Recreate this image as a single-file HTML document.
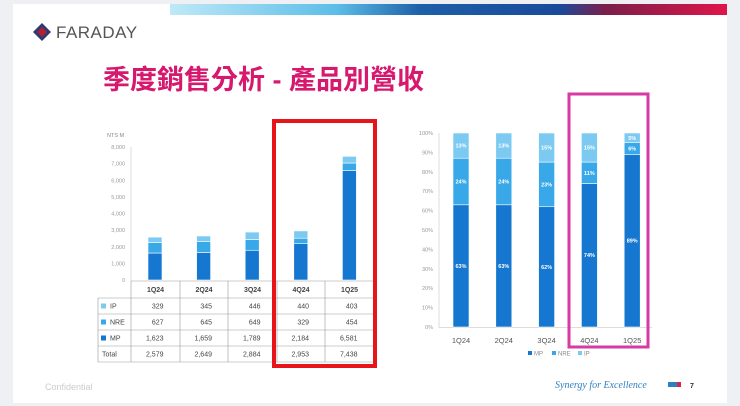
<!DOCTYPE html>
<html><head><meta charset="utf-8">
<style>
body{margin:0;width:740px;height:406px;background:#eef0f4;font-family:"Liberation Sans","Noto Sans CJK TC",sans-serif;overflow:hidden;position:relative}
#slide{position:absolute;left:13px;top:4px;width:714px;height:399px;background:#fff}
svg{position:absolute;left:0;top:0}
</style></head><body>
<div id="slide"></div>
<svg id="s" width="740" height="406">
<defs><linearGradient id="g" x1="0" x2="1"><stop offset="0" stop-color="#bfe9f7"/><stop offset="0.3" stop-color="#5bbde8"/><stop offset="0.45" stop-color="#1d5fa8"/><stop offset="0.7" stop-color="#1a4a9a"/><stop offset="0.78" stop-color="#7a1f4a"/><stop offset="1" stop-color="#e0154a"/></linearGradient></defs>
<rect x="170" y="4" width="557" height="11" fill="url(#g)"/>
<g>
<polygon points="33,32 42,23 51,32 42,41" fill="#2d3a6e"/>
<polygon points="37,32 42,27 47,32 42,37" fill="#b21e3a"/>
<text x="56" y="38" font-size="17" fill="#555" letter-spacing="0.5">FARADAY</text></g>
<text x="103" y="89" font-size="27" fill="#d6186e" font-weight="bold">季度銷售分析 - 產品別營收</text>
<g id="left"></g><g id="right"></g>
<text x="45" y="390" font-size="9" fill="#ccc">Confidential</text>
<text x="555" y="388" font-size="10" fill="#2f7fc0" font-style="italic" font-family="Liberation Serif,serif">Synergy for Excellence</text>
<rect x="668" y="382" width="9" height="5" fill="#2f7fc0"/><rect x="677" y="382" width="4" height="5" fill="#d6244a"/>
<text x="690" y="388" font-size="7" fill="#333" font-weight="bold">7</text>
</svg>
<script>
const categories=["1Q24","2Q24","3Q24","4Q24","1Q25"];
const ipVals=[329,345,446,440,403];
const nreVals=[627,645,649,329,454];
const mpVals=[1623,1659,1789,2184,6581];
const totals=[2579,2649,2884,2953,7438];
const mpPct=[63,63,62,74,89];
const nrePct=[24,24,23,11,6];
const ipPct=[13,13,15,15,5];
const yTicks=[0,1000,2000,3000,4000,5000,6000,7000,8000];
const pctTicks=[0,10,20,30,40,50,60,70,80,90,100];
const C_MP="#1577cf",C_NRE="#38a8e8",C_IP="#7ccaf2";
const NS="http://www.w3.org/2000/svg";
function el(p,t,a,txt){const e=document.createElementNS(NS,t);for(const k in a)e.setAttribute(k,a[k]);if(txt!==undefined)e.textContent=txt;p.appendChild(e);return e;}
const fmt=v=>v.toLocaleString("en-US");
const L=document.getElementById("left");
const y0=280,y1=147,yL=v=>y0-(v/8000)*(y0-y1);
const xL=i=>155+i*48.6;
let t=el(L,"text",{x:107,y:137,"font-size":5.5,fill:"#888"},"NTS M");


yTicks.forEach(v=>{const e=el(L,"text",{x:125,y:yL(v)+2,"font-size":5.5,fill:"#999","text-anchor":"end"},fmt(v));

});
let ax=el(L,"line",{x1:131,x2:131,y1:147,y2:281,stroke:"#ddd"});


categories.forEach((c,i)=>{let b=0;[[mpVals,C_MP,"mp"],[nreVals,C_NRE,"nre"],[ipVals,C_IP,"ip"]].forEach(([arr,col,n])=>{
const r=el(L,"rect",{x:xL(i)-7,y:yL(b+arr[i]),width:14,height:yL(b)-yL(b+arr[i]),fill:col,stroke:"#fff","stroke-width":0.6});

b+=arr[i];});});
const colX=[98,131,180,228,277,325,374],rowY=[281,298,314,330,346,362];
const rows=[["",categories],["IP",ipVals.map(fmt)],["NRE",nreVals.map(fmt)],["MP",mpVals.map(fmt)],["Total",totals.map(fmt)]];
const tcol=[null,C_IP,C_NRE,C_MP,null];
rows.forEach((r,ri)=>{const yy=(rowY[ri]+rowY[ri+1])/2+2.5;
if(r[0]){if(tcol[ri]){const sq=el(L,"rect",{x:101,y:yy-5,width:5,height:5,fill:tcol[ri]});}
const lb=el(L,"text",{x:tcol[ri]?110:102,y:yy,"font-size":7,fill:"#444"},r[0]);}
r[1].forEach((v,ci)=>{const cx=(colX[ci+1]+colX[ci+2])/2;const tx=el(L,"text",{x:ri?cx+8:cx,y:yy,"font-size":7,fill:"#444","text-anchor":ri?"end":"middle","font-weight":ri?"normal":"bold"},v);
});});
rowY.forEach((y,i)=>{const ln=el(L,"line",{x1:i<1?131:98,x2:374,y1:y,y2:y,stroke:"#999","stroke-width":0.6});});
colX.forEach((x,i)=>{const ln=el(L,"line",{x1:x,x2:x,y1:i?281:298,y2:362,stroke:"#999","stroke-width":0.6});});
let rb=el(L,"rect",{x:274,y:121,width:101,height:245,fill:"none",stroke:"#e8141b","stroke-width":4});


const R=document.getElementById("right");
const p0=327,p1=133,yR=v=>p0-(v/100)*(p0-p1),xR=i=>461+i*42.8;
pctTicks.forEach(v=>{const e=el(R,"text",{x:433,y:yR(v)+2,"font-size":5.5,fill:"#999","text-anchor":"end"},v+"%");

});
let ax2=el(R,"line",{x1:439,x2:439,y1:133,y2:328,stroke:"#ddd"});


let ax3=el(R,"line",{x1:439,x2:652,y1:327.5,y2:327.5,stroke:"#ddd"});


categories.forEach((c,i)=>{let b=0;
[[mpPct,C_MP,"mp"],[nrePct,C_NRE,"nre"],[ipPct,C_IP,"ip"]].forEach(([arr,col,n])=>{const p=arr[i];
const r=el(R,"rect",{x:xR(i)-8,y:yR(b+p),width:16,height:yR(b)-yR(b+p),fill:col,stroke:"#fff","stroke-width":0.6});


const lb=el(R,"text",{x:xR(i),y:(yR(b)+yR(b+p))/2+2,"font-size":5.5,fill:"#fff","text-anchor":"middle","font-weight":"bold"},p+"%");

b+=p;});
const cl=el(R,"text",{x:xR(i),y:343,"font-size":7.5,fill:"#555","text-anchor":"middle"},c);

});
[["MP",C_MP,528],["NRE",C_NRE,552],["IP",C_IP,578]].forEach(([n,col,x])=>{const s=el(R,"rect",{x:x,y:351,width:4,height:4,fill:col});


const tx=el(R,"text",{x:x+6,y:355.5,"font-size":6,fill:"#888"},n);

});
let pb=el(R,"rect",{x:569,y:94,width:79,height:253,fill:"none",stroke:"#d63aa3","stroke-width":3});


</script>
</body></html>
